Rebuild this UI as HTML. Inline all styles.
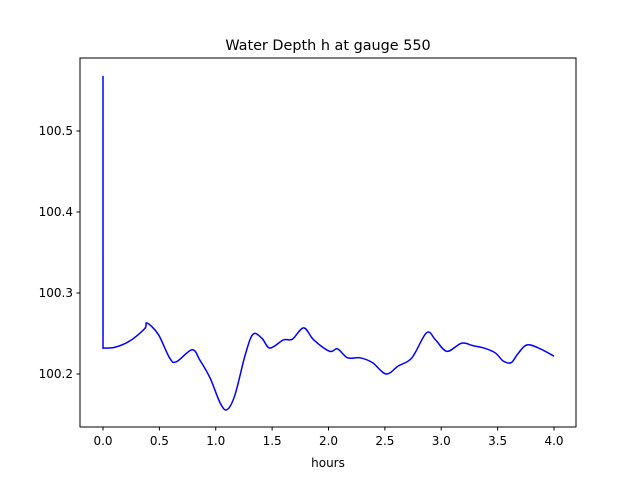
<!DOCTYPE html>
<html><head><meta charset="utf-8"><style>
body{margin:0;background:#fff;font-family:"Liberation Sans","DejaVu Sans",sans-serif}
svg text{font-family:"DejaVu Sans","Liberation Sans",sans-serif;font-size:12px;fill:#000}
</style></head><body>
<svg id="chart" width="640" height="480" xmlns="http://www.w3.org/2000/svg">
<rect width="640" height="480" fill="#fff"/>
<text x="328" y="50" text-anchor="middle" style="font-size:14.4px">Water Depth h at gauge 550</text>
<g id="ticks"></g>
<path id="line" fill="none" stroke="#0000ff" stroke-width="1.5"/>
<rect x="80" y="58" width="496" height="369" fill="none" stroke="#000" stroke-width="1"/>
<text x="328" y="467" text-anchor="middle">hours</text>
</svg>
<script>
const hours=[0,0.0001,0.106,0.24,0.37,0.39,0.49,0.59,0.65,0.79,0.86,0.95,1.04,1.10,1.17,1.26,1.33,1.41,1.48,1.6,1.68,1.78,1.87,2.01,2.08,2.17,2.28,2.39,2.51,2.62,2.74,2.87,2.95,3.05,3.18,3.28,3.38,3.48,3.55,3.62,3.68,3.76,3.88,4.0];
const depth=[100.568,100.232,100.233,100.241,100.256,100.263,100.249,100.220,100.215,100.230,100.217,100.195,100.164,100.156,100.174,100.223,100.249,100.244,100.232,100.242,100.243,100.257,100.242,100.228,100.231,100.220,100.220,100.214,100.200,100.210,100.220,100.251,100.242,100.228,100.238,100.235,100.232,100.226,100.216,100.214,100.225,100.236,100.231,100.222];
const xTicks=[0,0.5,1,1.5,2,2.5,3,3.5,4];
const xLabels=["0.0","0.5","1.0","1.5","2.0","2.5","3.0","3.5","4.0"];
const yTicks=[100.2,100.3,100.4,100.5];
const yLabels=["100.2","100.3","100.4","100.5"];
const X=v=>103+v*112.75, Y=v=>374-(v-100.2)*810;
const ns="http://www.w3.org/2000/svg", g=document.getElementById('ticks');
function mk(t,a){const e=document.createElementNS(ns,t);for(const k in a)e.setAttribute(k,a[k]);g.appendChild(e);return e;}
xTicks.forEach((v,i)=>{const l=mk('line',{x1:X(v),x2:X(v),y1:427,y2:430.5,stroke:'#000'});


const t=mk('text',{x:X(v),y:445,'text-anchor':'middle'});t.textContent=xLabels[i];

});
yTicks.forEach((v,i)=>{const l=mk('line',{x1:76.5,x2:80,y1:Y(v),y2:Y(v),stroke:'#000'});


const t=mk('text',{x:73,y:Y(v)+4,'text-anchor':'end'});t.textContent=yLabels[i];

});
const P=hours.map((h,i)=>[X(h),Y(depth[i])]);
let d=`M${P[0][0]},${P[0][1]}L${P[1][0]},${P[1][1]}`;
for(let i=1;i<P.length-1;i++){const p0=P[Math.max(1,i-1)],p1=P[i],p2=P[i+1],p3=P[Math.min(P.length-1,i+2)];
d+=`C${p1[0]+(p2[0]-p0[0])/6},${p1[1]+(p2[1]-p0[1])/6} ${p2[0]-(p3[0]-p1[0])/6},${p2[1]-(p3[1]-p1[1])/6} ${p2[0]},${p2[1]}`;}
document.getElementById('line').setAttribute('d',d);
</script>
</body></html>
